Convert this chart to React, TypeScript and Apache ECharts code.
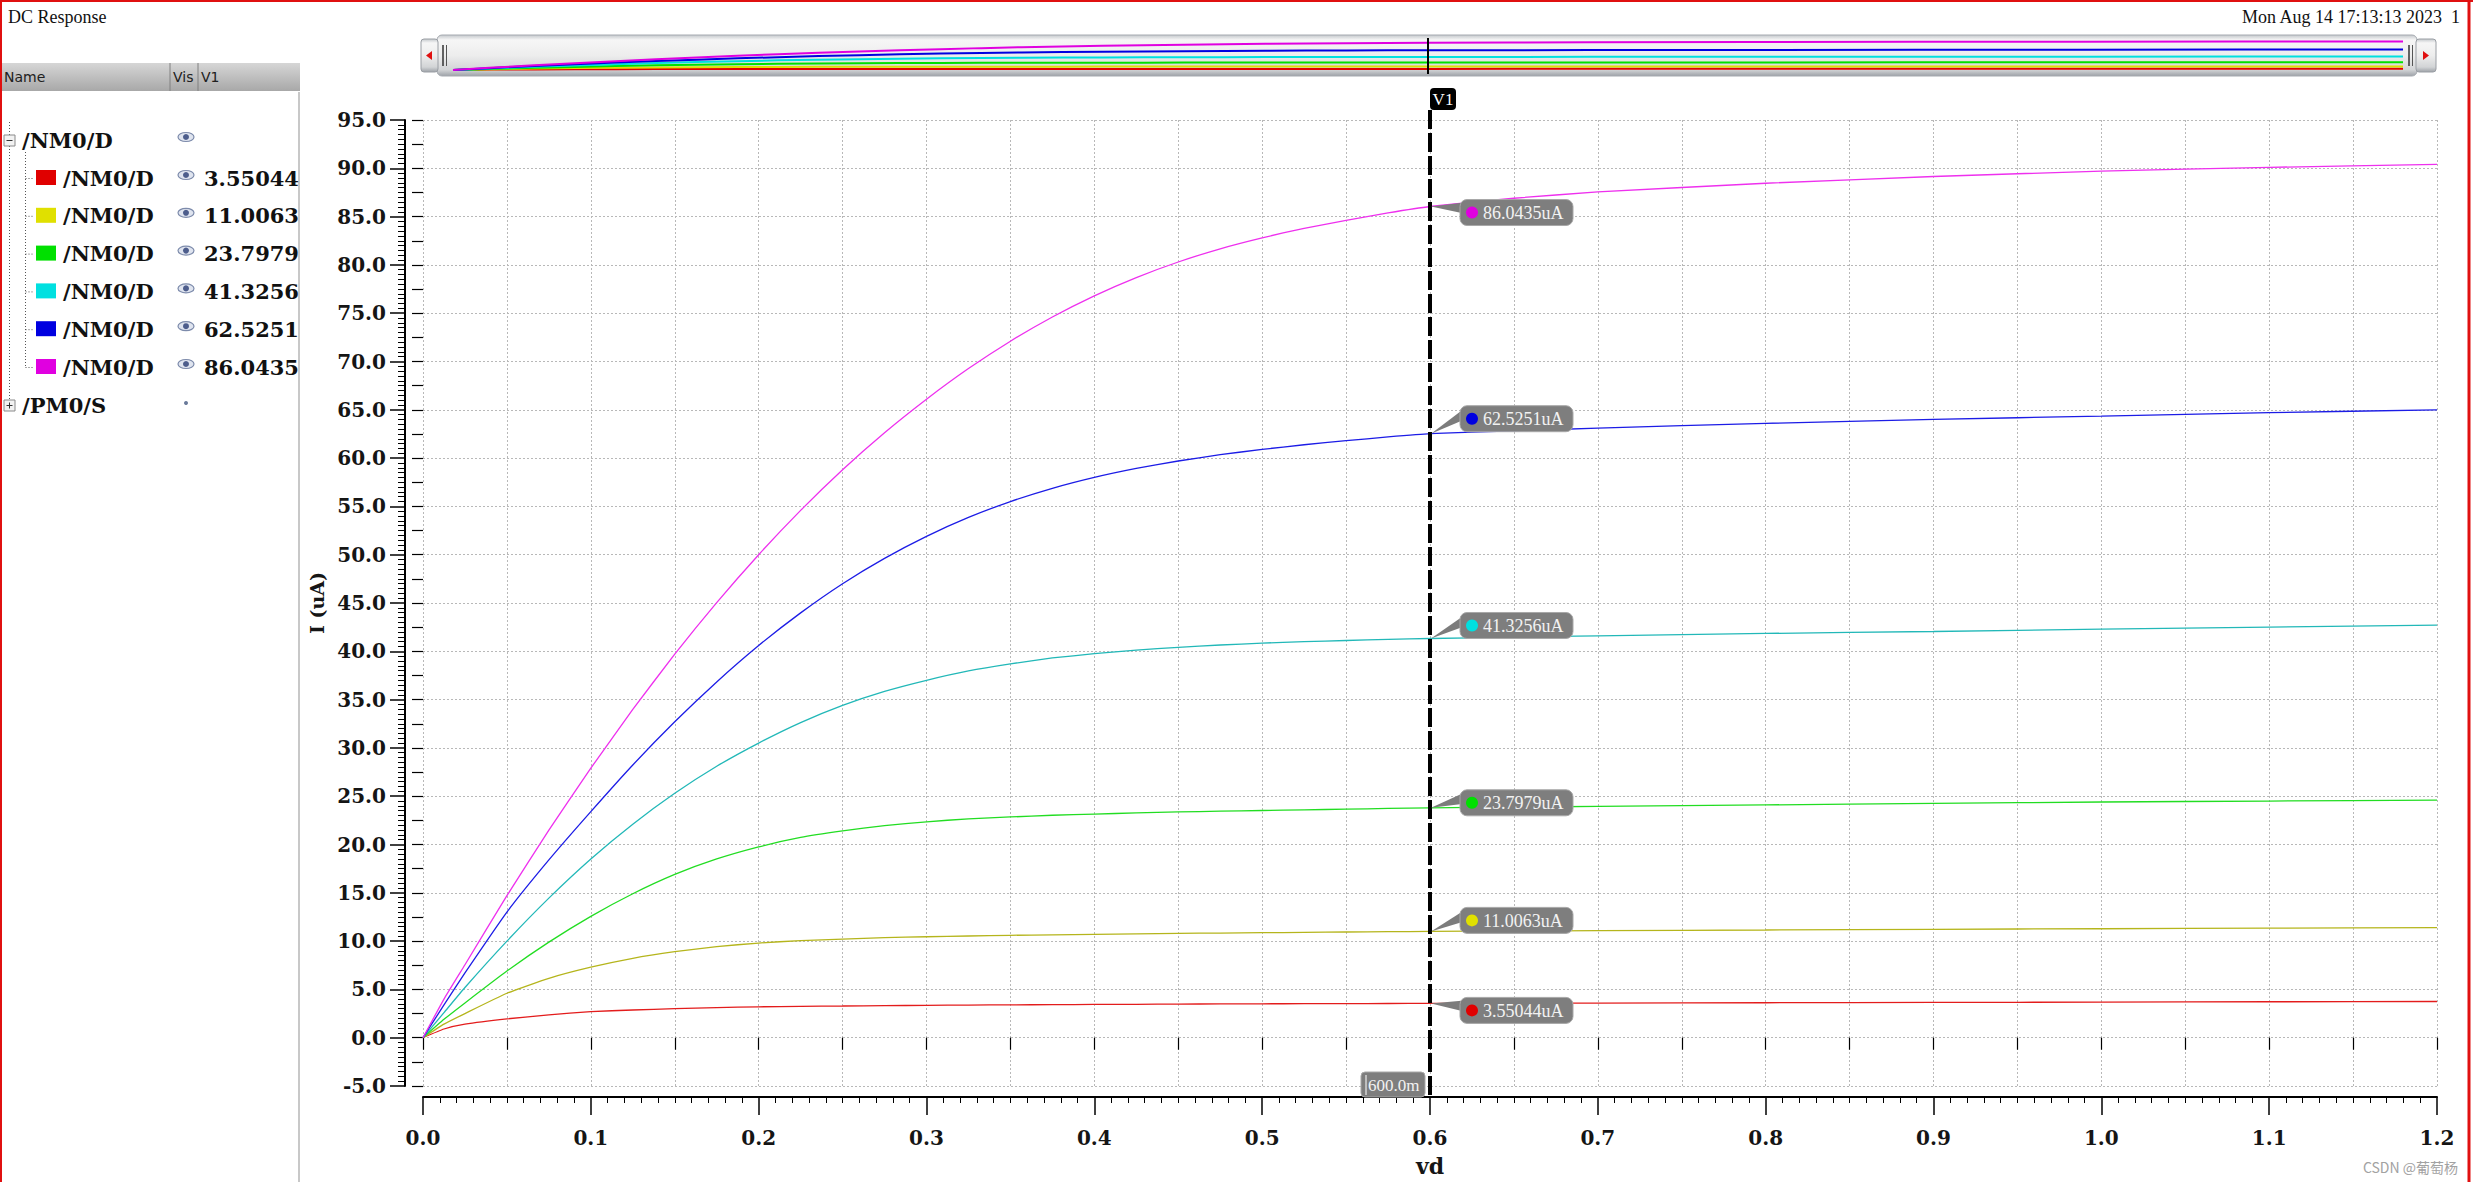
import React, { useEffect, useRef } from "react";
import * as echarts from "echarts";

// ---------------- data ----------------
const VD = [0, 0.0125, 0.025, 0.05, 0.075, 0.1, 0.125, 0.15, 0.175, 0.2, 0.225, 0.25, 0.275, 0.3, 0.325, 0.35, 0.375, 0.4, 0.425, 0.45, 0.475, 0.5, 0.525, 0.55, 0.575, 0.6, 0.65, 0.7, 0.8, 0.9, 1.0, 1.1, 1.2];
const I_RED = [0, 0.9, 1.4, 1.95, 2.37, 2.7, 2.87, 3.0, 3.11, 3.2, 3.245, 3.28, 3.317, 3.35, 3.377, 3.4, 3.42, 3.44, 3.46, 3.48, 3.495, 3.51, 3.52, 3.53, 3.54, 3.55044, 3.565, 3.58, 3.62, 3.65, 3.68, 3.72, 3.75];
const I_YELLOW = [0, 1.4, 2.5, 4.6, 6.15, 7.3, 8.22, 8.9, 9.43, 9.8, 10.05, 10.2, 10.35, 10.45, 10.53, 10.6, 10.65, 10.7, 10.75, 10.8, 10.835, 10.87, 10.905, 10.94, 10.973, 11.0063, 11.04, 11.08, 11.15, 11.22, 11.28, 11.34, 11.4];
const I_GREEN = [0, 1.9, 3.6, 6.9, 9.89, 12.56, 14.9, 16.9, 18.5, 19.75, 20.73, 21.4, 21.96, 22.35, 22.66, 22.85, 23.03, 23.15, 23.27, 23.37, 23.445, 23.52, 23.59, 23.66, 23.73, 23.7979, 23.87, 23.95, 24.1, 24.25, 24.4, 24.5, 24.6];
const I_CYAN = [0, 2.6, 5.2, 10.0, 14.45, 18.5, 22.1, 25.3, 28.1, 30.5, 32.62, 34.4, 35.85, 37.0, 37.97, 38.7, 39.31, 39.75, 40.13, 40.4, 40.65, 40.85, 41.0, 41.12, 41.23, 41.3256, 41.47, 41.6, 41.85, 42.05, 42.3, 42.5, 42.7];
const I_BLUE = [0, 3.4, 6.7, 13.0, 18.4, 23.4, 28.23, 32.7, 36.83, 40.6, 43.98, 47.0, 49.62, 51.9, 53.86, 55.5, 56.87, 58.0, 58.93, 59.7, 60.35, 60.9, 61.38, 61.8, 62.19, 62.5251, 62.82, 63.1, 63.6, 64.0, 64.35, 64.7, 65.0];
const I_MAGENTA = [0, 4.0, 7.55, 14.7, 21.48, 27.9, 33.98, 39.7, 45.04, 50.0, 54.59, 58.8, 62.63, 66.1, 69.27, 72.1, 74.61, 76.8, 78.69, 80.3, 81.67, 82.8, 83.79, 84.6, 85.38, 86.0435, 86.9, 87.55, 88.45, 89.15, 89.7, 90.1, 90.4];

const SERIES_VALUES = [I_RED, I_YELLOW, I_GREEN, I_CYAN, I_BLUE, I_MAGENTA];
const SIGNAL_NAME = "/NM0/D";
const OTHER_SIGNAL = "/PM0/S";
const CURSOR_NAME = "V1";
const CURSOR_VD = 0.6;
const CURSOR_TEXT = ["3.55044", "11.0063", "23.7979", "41.3256", "62.5251", "86.0435"];
const UNIT = "uA";

const Y_MIN = -5, Y_MAX = 95, Y_STEP = 5;
const X_MIN = 0, X_MAX = 1.2, X_STEP = 0.1;

const TITLE = "DC Response";
const DATE_TEXT = "Mon Aug 14 17:13:13 2023  1";
const WATERMARK = "CSDN @葡萄杨";
const X_NAME = "vd";
const Y_NAME = "I (uA)";

// ---------------- styles ----------------
const LINE_COLORS = ["#e31c1c", "#b5b51c", "#22dd22", "#22b8b8", "#1c1ce6", "#ee30ee"];
const KEY_COLORS = ["#e00000", "#e0e000", "#00e000", "#00e0e0", "#0000e0", "#e000e0"];
const LABEL_SHIFT = [7, -11, -5, -13, -15, 6];

const W = 2473, H = 1182;
const SERIF = '"DejaVu Serif", serif';
const LSERIF = '"Liberation Serif", serif';

export default function App() {
  const ref = useRef<HTMLDivElement>(null);

  useEffect(() => {
    const chart = echarts.init(ref.current!, null, { renderer: "svg" });

    const dotted = { color: "#b8b8b8", type: [2, 2] as any, width: 1 };
    const axisFont = { fontFamily: SERIF, fontWeight: "bold" as const, fontSize: 20, color: "#151515" };

    const series: any[] = [];
    SERIES_VALUES.forEach((vals, i) => {
      const data = VD.map((x, k) => [x, vals[k]]);
      series.push({
        type: "line", xAxisIndex: 0, yAxisIndex: 0, data, showSymbol: false,
        smooth: 0.15,
        lineStyle: { color: LINE_COLORS[i], width: 1.3 }, itemStyle: { color: LINE_COLORS[i] },
        silent: true, z: 3,
      });
      series.push({
        type: "line", xAxisIndex: 2, yAxisIndex: 2, data, showSymbol: false,
        lineStyle: { color: KEY_COLORS[i], width: 2 }, silent: true, z: 3,
      });
    });

    chart.setOption({
      animation: false,
      backgroundColor: "#ffffff",
      grid: [
        { left: 423, top: 120, width: 2014, height: 968 },
        { left: 453, top: 40, width: 1950, height: 30 },
      ],
      xAxis: [
        {
          type: "value", gridIndex: 0, position: "bottom", min: X_MIN, max: X_MAX, interval: X_STEP, offset: 11,
          axisLine: { show: true, onZero: false, lineStyle: { color: "#000", width: 2 } },
          axisTick: { show: true, length: 18, lineStyle: { color: "#000", width: 1.5 } },
          minorTick: { show: true, splitNumber: 10, length: 6, lineStyle: { color: "#000", width: 1 } },
          axisLabel: { ...axisFont, margin: 31, formatter: (v: number) => v.toFixed(1) },
          splitLine: { show: false },
          name: X_NAME, nameLocation: "middle", nameGap: 58,
          nameTextStyle: { fontFamily: SERIF, fontWeight: "bold", fontSize: 22, color: "#151515" },
        },
        {
          type: "value", gridIndex: 0, position: "bottom", min: X_MIN, max: X_MAX, interval: X_STEP / 2, offset: 11,
          axisLine: { show: false },
          axisTick: { show: true, length: 12, lineStyle: { color: "#000", width: 1.2 } },
          axisLabel: { show: false },
          splitLine: { show: true, lineStyle: dotted },
        },
        { type: "value", gridIndex: 1, min: X_MIN, max: X_MAX, show: false },
      ],
      yAxis: [
        {
          type: "value", gridIndex: 0, position: "left", min: Y_MIN, max: Y_MAX, interval: Y_STEP, offset: 18,
          axisLine: { show: true, onZero: false, lineStyle: { color: "#000", width: 2 } },
          axisTick: { show: true, length: 15, lineStyle: { color: "#000", width: 1.5 } },
          minorTick: { show: true, splitNumber: 10, length: 7, lineStyle: { color: "#000", width: 1 } },
          axisLabel: { ...axisFont, margin: 19, formatter: (v: number) => v.toFixed(1) },
          splitLine: { show: true, lineStyle: dotted },
          name: Y_NAME, nameLocation: "middle", nameRotate: 90, nameGap: 72,
          nameTextStyle: { fontFamily: SERIF, fontWeight: "bold", fontSize: 19, color: "#151515" },
        },
        {
          type: "value", gridIndex: 0, position: "left", min: Y_MIN, max: Y_MAX, interval: Y_STEP / 2, offset: 18,
          axisLine: { show: false },
          axisTick: { show: true, length: 11, lineStyle: { color: "#000", width: 1.2 } },
          axisLabel: { show: false }, splitLine: { show: false },
        },
        { type: "value", gridIndex: 1, min: 0, max: Y_MAX, show: false },
      ],
      series,
    });

    // ---------- graphics ----------
    const g: any[] = [];
    const text = (x: number, y: number, t: string, font: string, fill: string, align = "left", extra: any = {}) =>
      g.push({ type: "text", x, y, z: 50, style: { text: t, font, fill, align, verticalAlign: "middle" }, ...extra });
    const line = (x1: number, y1: number, x2: number, y2: number, stroke: string, lineWidth = 1, lineDash?: any, z = 50) =>
      g.push({ type: "line", z, shape: { x1, y1, x2, y2 }, style: { stroke, lineWidth, lineDash } });

    // window border
    line(0, 1, W, 1, "#e01010", 2);
    line(1, 0, 1, H, "#e01010", 2);
    line(2469, 0, 2469, H, "#e01010", 3);

    text(8, 17, TITLE, `18px ${LSERIF}`, "#111");
    text(2460, 17, DATE_TEXT, `18px ${LSERIF}`, "#111", "right");

    // list header
    g.push({
      type: "rect", z: 40, shape: { x: 2, y: 63, width: 298, height: 28 },
      style: { fill: new echarts.graphic.LinearGradient(0, 0, 0, 1, [{ offset: 0, color: "#d6d6d6" }, { offset: 1, color: "#a8a8a8" }]) },
    });
    line(170, 63, 170, 91, "#808080", 1);
    line(198, 63, 198, 91, "#808080", 1);
    text(4, 77, "Name", '14px "DejaVu Sans", sans-serif', "#202020");
    text(173, 77, "Vis", '14px "DejaVu Sans", sans-serif', "#202020");
    text(201, 77, CURSOR_NAME, '14px "DejaVu Sans", sans-serif', "#202020");
    line(299, 92, 299, H, "#c8c8c8", 2);

    // tree
    const parentY = 140, childY0 = 178, rowStep = 37.8, otherY = 405;
    line(9.5, 122, 9.5, otherY - 5, "#555", 1, [1, 2]);
    line(25.5, 152, 25.5, childY0 + rowStep * 5, "#555", 1, [1, 2]);
    const expandBox = (y: number, plus: boolean) => {
      g.push({ type: "rect", z: 51, shape: { x: 4, y: y - 5, width: 11, height: 11 }, style: { fill: "#f2f2f2", stroke: "#8a8a8a", lineWidth: 1 } });
      line(6.5, y + 0.5, 12.5, y + 0.5, "#333", 1, undefined, 52);
      if (plus) line(9.5, y - 2.5, 9.5, y + 3.5, "#333", 1, undefined, 52);
    };
    const eye = (x: number, y: number) => {
      g.push({ type: "ellipse", z: 51, shape: { cx: x, cy: y, rx: 8, ry: 4.5 }, style: { fill: "#dfe4ef", stroke: "#7d8bab", lineWidth: 1.2 } });
      g.push({ type: "circle", z: 52, shape: { cx: x, cy: y, r: 3 }, style: { fill: "#4d5d8c" } });
    };
    const treeFont = `bold 21px ${SERIF}`;
    expandBox(parentY, false);
    text(22, parentY, SIGNAL_NAME, treeFont, "#111");
    eye(186, parentY - 3);
    CURSOR_TEXT.forEach((v, i) => {
      const y = childY0 + rowStep * i;
      line(25.5, y + 0.5, 34, y + 0.5, "#555", 1, [1, 2]);
      g.push({ type: "rect", z: 51, shape: { x: 36, y: y - 8, width: 20, height: 15 }, style: { fill: KEY_COLORS[i] } });
      text(63, y, SIGNAL_NAME, treeFont, "#111");
      eye(186, y - 3);
      text(204, y, v, treeFont, "#111");
    });
    expandBox(otherY, true);
    text(22, otherY, OTHER_SIGNAL, treeFont, "#111");
    g.push({ type: "circle", z: 51, shape: { cx: 186, cy: otherY - 2, r: 2 }, style: { fill: "#6a7a9a" } });

    // overview / scroll bar
    const barGrad = () => new echarts.graphic.LinearGradient(0, 0, 0, 1, [
      { offset: 0, color: "#c4c8cc" }, { offset: 0.12, color: "#f6f6f6" }, { offset: 0.5, color: "#ededed" },
      { offset: 0.85, color: "#d2d4d6" }, { offset: 1, color: "#9ea2a8" },
    ]);
    g.push({ type: "rect", z: 0, shape: { x: 437, y: 35, width: 1980, height: 41, r: 5 }, style: { fill: barGrad(), stroke: "#a6aab0", lineWidth: 1 } });
    g.push({ type: "rect", z: 1, shape: { x: 421, y: 39, width: 17, height: 33, r: 3 }, style: { fill: barGrad(), stroke: "#9a9ea4", lineWidth: 1 } });
    g.push({ type: "rect", z: 1, shape: { x: 2416, y: 39, width: 20, height: 33, r: 3 }, style: { fill: barGrad(), stroke: "#9a9ea4", lineWidth: 1 } });
    g.push({ type: "polygon", z: 5, shape: { points: [[426, 55.5], [432, 51], [432, 60]] }, style: { fill: "#e01010" } });
    g.push({ type: "polygon", z: 5, shape: { points: [[2429, 55.5], [2423, 51], [2423, 60]] }, style: { fill: "#e01010" } });
    line(443, 45, 443, 66, "#333", 1.5, undefined, 5);
    line(446.5, 45, 446.5, 66, "#555", 1, undefined, 5);
    line(2409, 45, 2409, 66, "#333", 1.5, undefined, 5);
    line(2412.5, 45, 2412.5, 66, "#555", 1, undefined, 5);

    // cursor in overview
    const mini = chart.convertToPixel({ xAxisIndex: 2, yAxisIndex: 2 }, [CURSOR_VD, 0]) as number[];
    line(mini[0], 38, mini[0], 74, "#000", 2, undefined, 20);

    // main cursor
    const idx = VD.indexOf(CURSOR_VD);
    const base = chart.convertToPixel({ xAxisIndex: 0, yAxisIndex: 0 }, [CURSOR_VD, Y_MIN]) as number[];
    const cx = base[0];
    const axisY = base[1] + 11;
    g.push({ type: "rect", z: 60, shape: { x: cx, y: 88, width: 26, height: 22, r: 4 }, style: { fill: "#000" } });
    text(cx + 13, 99.5, CURSOR_NAME, `17px ${LSERIF}`, "#fff", "center", { z: 61 });
    line(cx, 110, cx, axisY, "#000", 4, [19, 4], 40);

    SERIES_VALUES.forEach((vals, i) => {
      const p = chart.convertToPixel({ xAxisIndex: 0, yAxisIndex: 0 }, [CURSOR_VD, vals[idx]]) as number[];
      const top = p[1] + LABEL_SHIFT[i] - 13;
      const left = cx + 30;
      g.push({ type: "polygon", z: 70, shape: { points: [[cx + 1, p[1]], [left + 4, top + 3], [left + 4, top + 14]] }, style: { fill: "#7c7c7c" } });
      g.push({ type: "rect", z: 71, shape: { x: left, y: top, width: 113, height: 26, r: 7 }, style: { fill: "#7e7e7e", stroke: "#a8a8a8", lineWidth: 1 } });
      g.push({ type: "circle", z: 72, shape: { cx: left + 12, cy: top + 13, r: 6 }, style: { fill: KEY_COLORS[i] } });
      text(left + 23, top + 13.5, CURSOR_TEXT[i] + UNIT, `18px ${LSERIF}`, "#f2f2f2", "left", { z: 72 });
    });

    // x readout
    const xr = (CURSOR_VD * 1000).toFixed(1) + "m";
    g.push({ type: "rect", z: 70, shape: { x: cx - 69, y: 1072, width: 64, height: 25, r: 4 }, style: { fill: "#7e7e7e", stroke: "#a8a8a8", lineWidth: 1 } });
    line(cx - 64, 1075, cx - 64, 1095, "#ffffff", 1, undefined, 71);
    text(cx - 62, 1085, xr, `17px ${LSERIF}`, "#f2f2f2", "left", { z: 72 });

    text(2458, 1167, WATERMARK, '14px "Noto Sans CJK SC", sans-serif', "#a2a2a2", "right");

    chart.setOption({ graphic: g });

    return () => chart.dispose();
  }, []);

  return <div ref={ref} style={{ position: "absolute", left: 0, top: 0, width: W, height: H, background: "#fff" }} />;
}
